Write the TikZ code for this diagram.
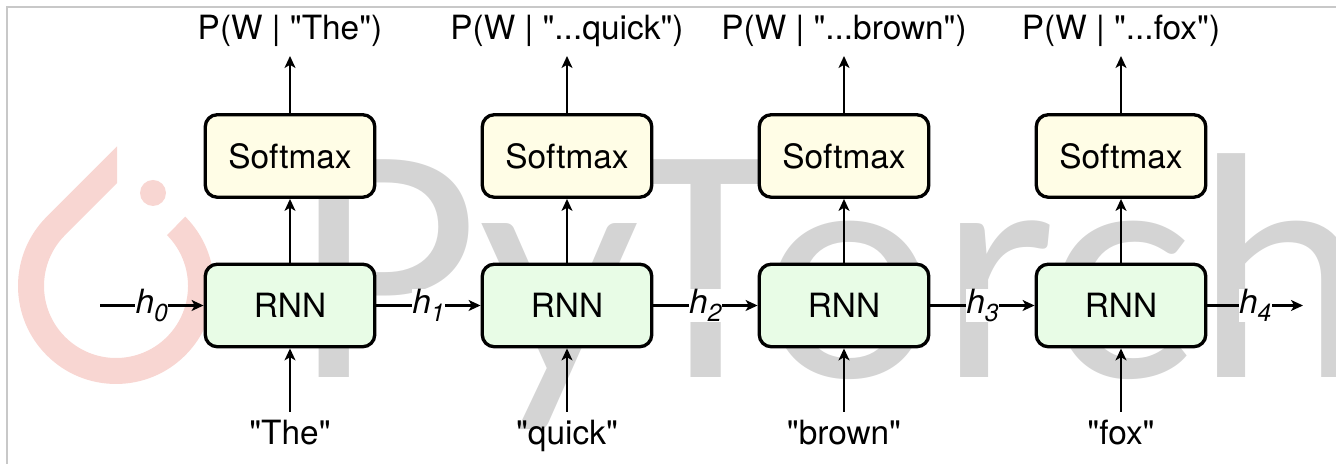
\documentclass[tikz,border=0pt]{standalone}
\usepackage{fontspec}
\setmainfont{TeX Gyre Heros}
\newfontfamily\wmfont{Lato}
\usepackage{xcolor}
\usepackage{tikz}
\usetikzlibrary{arrows.meta}
\usetikzlibrary{positioning}
\definecolor{smfill}{RGB}{255,253,230}
\definecolor{rnnfill}{RGB}{232,252,230}
\definecolor{wmgray}{RGB}{212,212,212}
\definecolor{wmred}{RGB}{248,214,210}
\definecolor{framegray}{RGB}{200,200,200}
\newcommand{\hsub}[1]{\textit{h}\raisebox{-4.5pt}{\fontsize{14}{14}\selectfont\textit{#1}}}
\newcommand{\qt}[1]{\textquotedbl{}#1\textquotedbl{}}
\tikzset{
	box node/.style={rectangle,draw,rounded corners=0.24cm,line width=1.9pt,
		minimum width=3.39cm,minimum height=1.65cm,font=\fontsize{19}{22}\selectfont},
	rnn node/.style={box node,fill=rnnfill},
	soft node/.style={box node,fill=smfill},
	word/.style={font=\fontsize{19}{22}\selectfont,text height=13.7pt,text depth=4pt,inner sep=4.5pt},
	hlabel/.style={fill=white,inner sep=0.3pt,font=\fontsize{19}{22}\selectfont}
}

\begin{document}
\begin{tikzpicture}[->,>={Stealth[length=6.8pt,width=6.2pt,inset=1.8pt]},line width=1.2pt]
      \useasboundingbox (0,0) rectangle (26.72,9.28);
      \begin{scope}[-]
        \clip (0,0) rectangle (26.72,9.28);
        \fill[wmred] (3.706,4.946) arc[start angle=45,end angle=-225,radius=1.96]
          -- (2.34,6.352) -- (2.34,5.616) -- (1.302,4.578)
          arc[start angle=135,end angle=405,radius=1.44] -- cycle;
        \fill[wmred] (3.06,5.42) circle (0.26);
        \node[anchor=base west,inner sep=0,text=wmgray,xscale=1.03,transform shape,
          font=\wmfont\fontsize{173}{173}\selectfont] (wm) at (5.78,1.72) {PyTorch};
        \draw[framegray,line width=0.8pt] (0.14,0) -- (0.14,9.14) -- (26.72,9.14);
      \end{scope}

      \node[rnn node] (r1) at (5.80,3.17) {RNN};
      \node[rnn node] (r2) at (11.34,3.17) {RNN};
      \node[rnn node] (r3) at (16.88,3.17) {RNN};
      \node[rnn node] (r4) at (22.42,3.17) {RNN};

      \node[soft node] (s1) at (5.80,6.16) {Softmax};
      \node[soft node] (s2) at (11.34,6.16) {Softmax};
      \node[soft node] (s3) at (16.88,6.16) {Softmax};
      \node[soft node] (s4) at (22.42,6.16) {Softmax};

      \node[word,anchor=base] (p1) at (5.80,8.48) {P(W | \qt{The})};
      \node[word,anchor=base] (p2) at (11.34,8.48) {P(W | \qt{...quick})};
      \node[word,anchor=base] (p3) at (16.88,8.48) {P(W | \qt{...brown})};
      \node[word,anchor=base] (p4) at (22.42,8.48) {P(W | \qt{...fox})};

      \node[word,anchor=base] (w1) at (5.80,0.38) {\qt{The}};
      \node[word,anchor=base] (w2) at (11.34,0.38) {\qt{quick}};
      \node[word,anchor=base] (w3) at (16.88,0.38) {\qt{brown}};
      \node[word,anchor=base] (w4) at (22.42,0.38) {\qt{fox}};

      \coordinate (h0) at (2.00,3.17);
      \coordinate (h4) at (26.06,3.17);

      \path[]
        (w1) edge (r1)
        (w2) edge (r2)
        (w3) edge (r3)
        (w4) edge (r4)
        (r1) edge (s1)
        (r2) edge (s2)
        (r3) edge (s3)
        (r4) edge (s4)
        (s1) edge (p1)
        (s2) edge (p2)
        (s3) edge (p3)
        (s4) edge (p4)
        (h0) edge node[hlabel] {\hsub{0}} (r1)
        (r1) edge node[hlabel] {\hsub{1}} (r2)
        (r2) edge node[hlabel] {\hsub{2}} (r3)
        (r3) edge node[hlabel] {\hsub{3}} (r4)
        (r4) edge node[hlabel] {\hsub{4}} (h4);
    \end{tikzpicture}
\end{document}
